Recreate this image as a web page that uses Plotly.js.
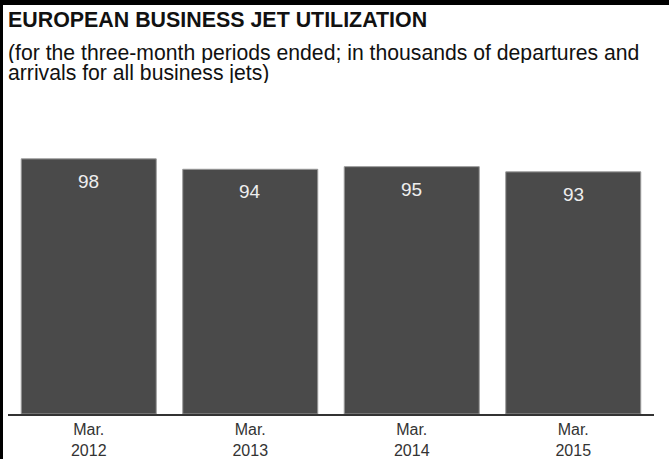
<!DOCTYPE html>
<html>
<head>
<meta charset="utf-8">
<script src="https://cdn.plot.ly/plotly-3.0.1.min.js"></script>
<style>
html, body { margin: 0; padding: 0; background: #fff; }
#chart { width: 669px; height: 459px; }
</style>
</head>
<body>
<div id="chart"></div>
<script>
const categories = ['Mar. 2012', 'Mar. 2013', 'Mar. 2014', 'Mar. 2015'];
const tickLabels = ['Mar.<br>2012', 'Mar.<br>2013', 'Mar.<br>2014', 'Mar.<br>2015'];
const utilization = [98, 94, 95, 93];
const valueLabels = ['98', '94', '95', '93'];

const titleText = 'EUROPEAN BUSINESS JET UTILIZATION';
const subtitleLine1 = '(for the three-month periods ended; in thousands of departures and';
const subtitleLine2 = 'arrivals for all business jets)';

const W = 669, H = 459;
const M = { l: 8, r: 15, t: 150, b: 45 };
const plotH = H - M.t - M.b;
const plotW = W - M.l - M.r;
const py = p => (H - M.b - p) / plotH;   // pixel y -> paper y
const px = p => (p - M.l) / plotW;       // pixel x -> paper x

const FONT = 'Liberation Sans, Arial, Helvetica, sans-serif';

const annotations = [
  { text: '<b>' + titleText + '</b>', xref: 'paper', yref: 'paper', x: px(6), y: py(6),
    xanchor: 'left', yanchor: 'top', showarrow: false,
    font: { family: FONT, size: 21.4, color: '#111' } },
  { text: subtitleLine1, xref: 'paper', yref: 'paper', x: px(6), y: py(41),
    xanchor: 'left', yanchor: 'top', showarrow: false, height: 20, valign: 'middle',
    font: { family: FONT, size: 21.2, color: '#111' } },
  { text: subtitleLine2, xref: 'paper', yref: 'paper', x: px(6), y: py(61),
    xanchor: 'left', yanchor: 'top', showarrow: false, height: 20, valign: 'middle',
    font: { family: FONT, size: 21.2, color: '#111' } }
];
categories.forEach((c, i) => {
  annotations.push({
    text: valueLabels[i], x: c, y: utilization[i], xref: 'x', yref: 'y',
    xanchor: 'center', yanchor: 'top', yshift: -10, showarrow: false,
    font: { family: FONT, size: 19, color: '#eeeeee' }
  });
});

const shapes = [
  { type: 'rect', xref: 'paper', yref: 'paper', x0: px(0), x1: px(669), y0: py(0), y1: py(5),
    fillcolor: '#000', line: { width: 0 } },
  { type: 'rect', xref: 'paper', yref: 'paper', x0: px(0), x1: px(3), y0: py(0), y1: py(459),
    fillcolor: '#000', line: { width: 0 } }
];

const trace = {
  type: 'bar',
  x: categories,
  y: utilization,
  marker: { color: '#4a4a4a', line: { color: '#9a9a9a', width: 1 } },
  hoverinfo: 'none'
};

const layout = {
  width: W, height: H,
  margin: M,
  paper_bgcolor: '#fff',
  plot_bgcolor: '#fff',
  showlegend: false,
  bargap: 0.164,
  xaxis: {
    type: 'category',
    tickvals: categories,
    ticktext: tickLabels,
    showline: true, linecolor: '#333', linewidth: 2,
    showgrid: false, zeroline: false, ticks: '',
    tickfont: { family: FONT, size: 16, color: '#333' }
  },
  yaxis: {
    range: [0, 101.4],
    showgrid: false, zeroline: false, showline: false,
    showticklabels: false, ticks: ''
  },
  annotations: annotations,
  shapes: shapes
};

Plotly.newPlot('chart', [trace], layout, { displayModeBar: false, staticPlot: true });
</script>
</body>
</html>
